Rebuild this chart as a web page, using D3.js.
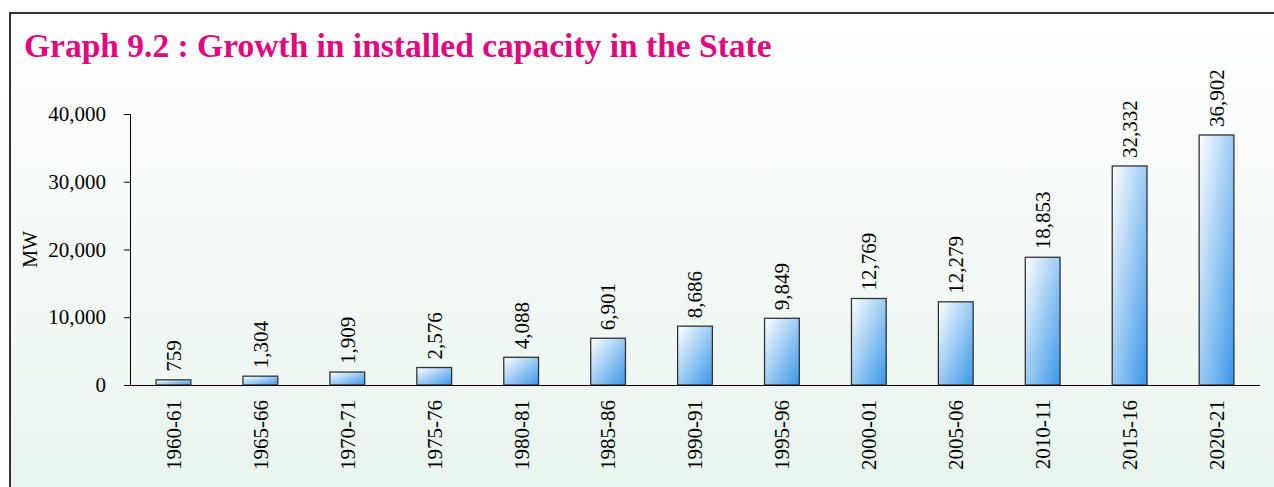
<!DOCTYPE html>
<meta charset="utf-8">
<style>
body { margin: 0; }
.axis text { font-family: "Liberation Serif", serif; font-size: 21px; fill: #000; }
.axis path, .axis line { stroke: #000; }
</style>
<body>
<script src="https://d3js.org/d3.v7.min.js"></script>
<script>

// data
var years = ["1960-61", "1965-66", "1970-71", "1975-76", "1980-81", "1985-86", "1990-91",
             "1995-96", "2000-01", "2005-06", "2010-11", "2015-16", "2020-21"];
var capacity = [759, 1304, 1909, 2576, 4088, 6901, 8686, 9849, 12769, 12279, 18853, 32332, 36902];
var yTicks = [0, 10000, 20000, 30000, 40000];

var data = years.map(function(d, i) { return {year: d, value: capacity[i]}; });

var W = 1274, H = 487;
var margin = {top: 114, left: 130, right: 14, bottom: 102};
var width = W - margin.left - margin.right,
    height = H - margin.top - margin.bottom;

var svg = d3.select("body").append("svg")
    .attr("width", W)
    .attr("height", H);

var defs = svg.append("defs");
var bg = defs.append("linearGradient").attr("id", "bg")
    .attr("x1", 0).attr("y1", 0).attr("x2", 0).attr("y2", 1);
bg.append("stop").attr("offset", "0%").attr("stop-color", "#ffffff");
bg.append("stop").attr("offset", "100%").attr("stop-color", "#e8f4ee");

var barGrad = defs.append("linearGradient").attr("id", "bar")
    .attr("x1", 0).attr("y1", 0).attr("x2", 1).attr("y2", 1);
barGrad.append("stop").attr("offset", "0%").attr("stop-color", "#ffffff");
barGrad.append("stop").attr("offset", "100%").attr("stop-color", "#3897e8");

// background panel with frame
svg.append("rect")
    .attr("width", W).attr("height", H)
    .attr("fill", "#ffffff");
svg.append("rect")
    .attr("x", 9).attr("y", 12)
    .attr("width", W).attr("height", H)
    .attr("fill", "url(#bg)");
svg.append("path")
    .attr("d", "M10," + H + "V13H" + W)
    .attr("fill", "none")
    .attr("stroke", "#333")
    .attr("stroke-width", 2);

// title
svg.append("text")
    .attr("x", 24)
    .attr("y", 57)
    .style("font-family", "Liberation Serif, serif")
    .style("font-weight", "bold")
    .style("font-size", "33.5px")
    .style("fill", "#e2067f")
    .text("Graph 9.2 : Growth in installed capacity in the State");

var g = svg.append("g")
    .attr("transform", "translate(" + margin.left + "," + margin.top + ")");

var x = d3.scaleBand()
    .domain(years)
    .range([0, width])
    .paddingInner(0.6)
    .paddingOuter(0.3);

var y = d3.scaleLinear()
    .domain([0, 40000])
    .range([height, 0]);

// y axis
var yAxis = g.append("g")
    .attr("class", "axis")
    .call(d3.axisLeft(y).tickValues(yTicks).tickSize(6).tickPadding(18)
      .tickFormat(d3.format(",")));
yAxis.select(".domain").attr("d", "M-6,0.5H0.5V" + height);

g.append("text")
    .attr("transform", "translate(-100," + (height / 2) + ") rotate(-90)")
    .attr("text-anchor", "middle")
    .attr("dy", "0.35em")
    .style("font-family", "Liberation Serif, serif")
    .style("font-size", "20px")
    .text("MW");

// bars
g.selectAll(".bar")
    .data(data)
  .enter().append("rect")
    .attr("class", "bar")
    .attr("x", function(d) { return x(d.year); })
    .attr("y", function(d) { return y(d.value); })
    .attr("width", x.bandwidth())
    .attr("height", function(d) { return height - y(d.value); })
    .attr("fill", "url(#bar)")
    .attr("stroke", "#333")
    .attr("stroke-width", 1.3);

// value labels
g.selectAll(".val")
    .data(data)
  .enter().append("text")
    .attr("class", "val")
    .attr("transform", function(d) {
      return "translate(" + (x(d.year) + x.bandwidth() / 2) + "," + (y(d.value) - 8) + ") rotate(-90)";
    })
    .attr("dy", "0.35em")
    .style("font-family", "Liberation Serif, serif")
    .style("font-size", "21px")
    .text(function(d) { return d3.format(",")(d.value); });

// x axis
g.append("line")
    .attr("x1", 0).attr("x2", width)
    .attr("y1", height + 0.5).attr("y2", height + 0.5)
    .attr("stroke", "#000");

g.selectAll(".cat")
    .data(years)
  .enter().append("text")
    .attr("class", "cat")
    .attr("transform", function(d) {
      return "translate(" + (x(d) + x.bandwidth() / 2) + "," + (height + 15) + ") rotate(-90)";
    })
    .attr("text-anchor", "end")
    .attr("dy", "0.35em")
    .style("font-family", "Liberation Serif, serif")
    .style("font-size", "21px")
    .text(function(d) { return d; });

</script>
</body>
